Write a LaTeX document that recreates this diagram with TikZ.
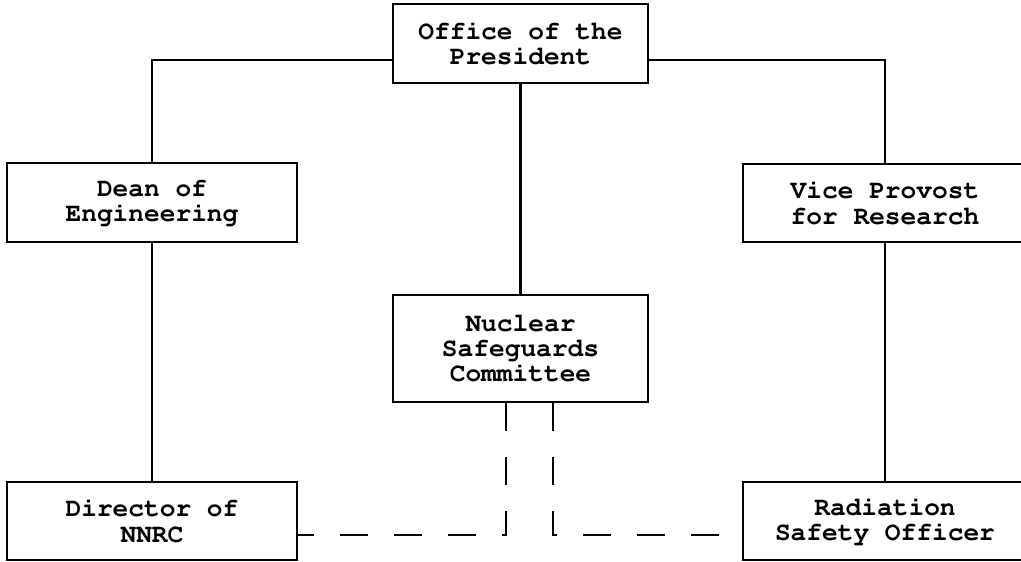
\documentclass[tikz,border=0pt]{standalone}
\usepackage[T1]{fontenc}
\renewcommand{\ttdefault}{pcr}
\usetikzlibrary{positioning}

\begin{document}
\begin{tikzpicture}[auto, node distance = 3.18cm and 7.37cm, on grid,
                    line width = 1.3pt,
                    unit/.style = {rectangle,
                                   draw,
                                   black,
                                   align = center,
                                   font = \ttfamily\bfseries\fontsize{14.9}{14.3}\selectfont,
                                   minimum width = 5.8cm,
                                   minimum height = 1.57cm},
                    link/.style = {dash pattern = on 0.56cm off 0.52cm}]

\useasboundingbox (-10.41,0.87) rectangle (10.01,-10.37);

\node[unit] (P) [minimum width = 5.1cm] {Office of the\\President};
\node[unit] (D) [below left = of P] {Dean of\\Engineering};
\node[unit] (V) [below right = 3.19cm and 7.29cm of P, minimum width = 5.68cm] {Vice Provost\\for Research};
\node[unit] (N) [below = 6.1cm of P, minimum width = 5.1cm, minimum height = 2.14cm] {Nuclear\\Safeguards\\Committee};
\node[unit] (R) [below = 6.37cm of D] {Director of\\NNRC};
\node[unit] (S) [below = 6.36cm of V, minimum width = 5.68cm] {Radiation\\Safety Officer};

\draw ([yshift=-0.33cm]P.west) -| (D.north);
\draw ([yshift=-0.33cm]P.east) -| (V.north);
\draw (P) -- (N);
\draw (D) -- (R);
\draw (V) -- (S);

\draw[link] ([xshift=-0.29cm]N.south) |- ([yshift=-0.28cm]R.east);
\draw[link] ([xshift=0.65cm]N.south) |- ([yshift=-0.28cm]S.west);

\end{tikzpicture}
\end{document}
